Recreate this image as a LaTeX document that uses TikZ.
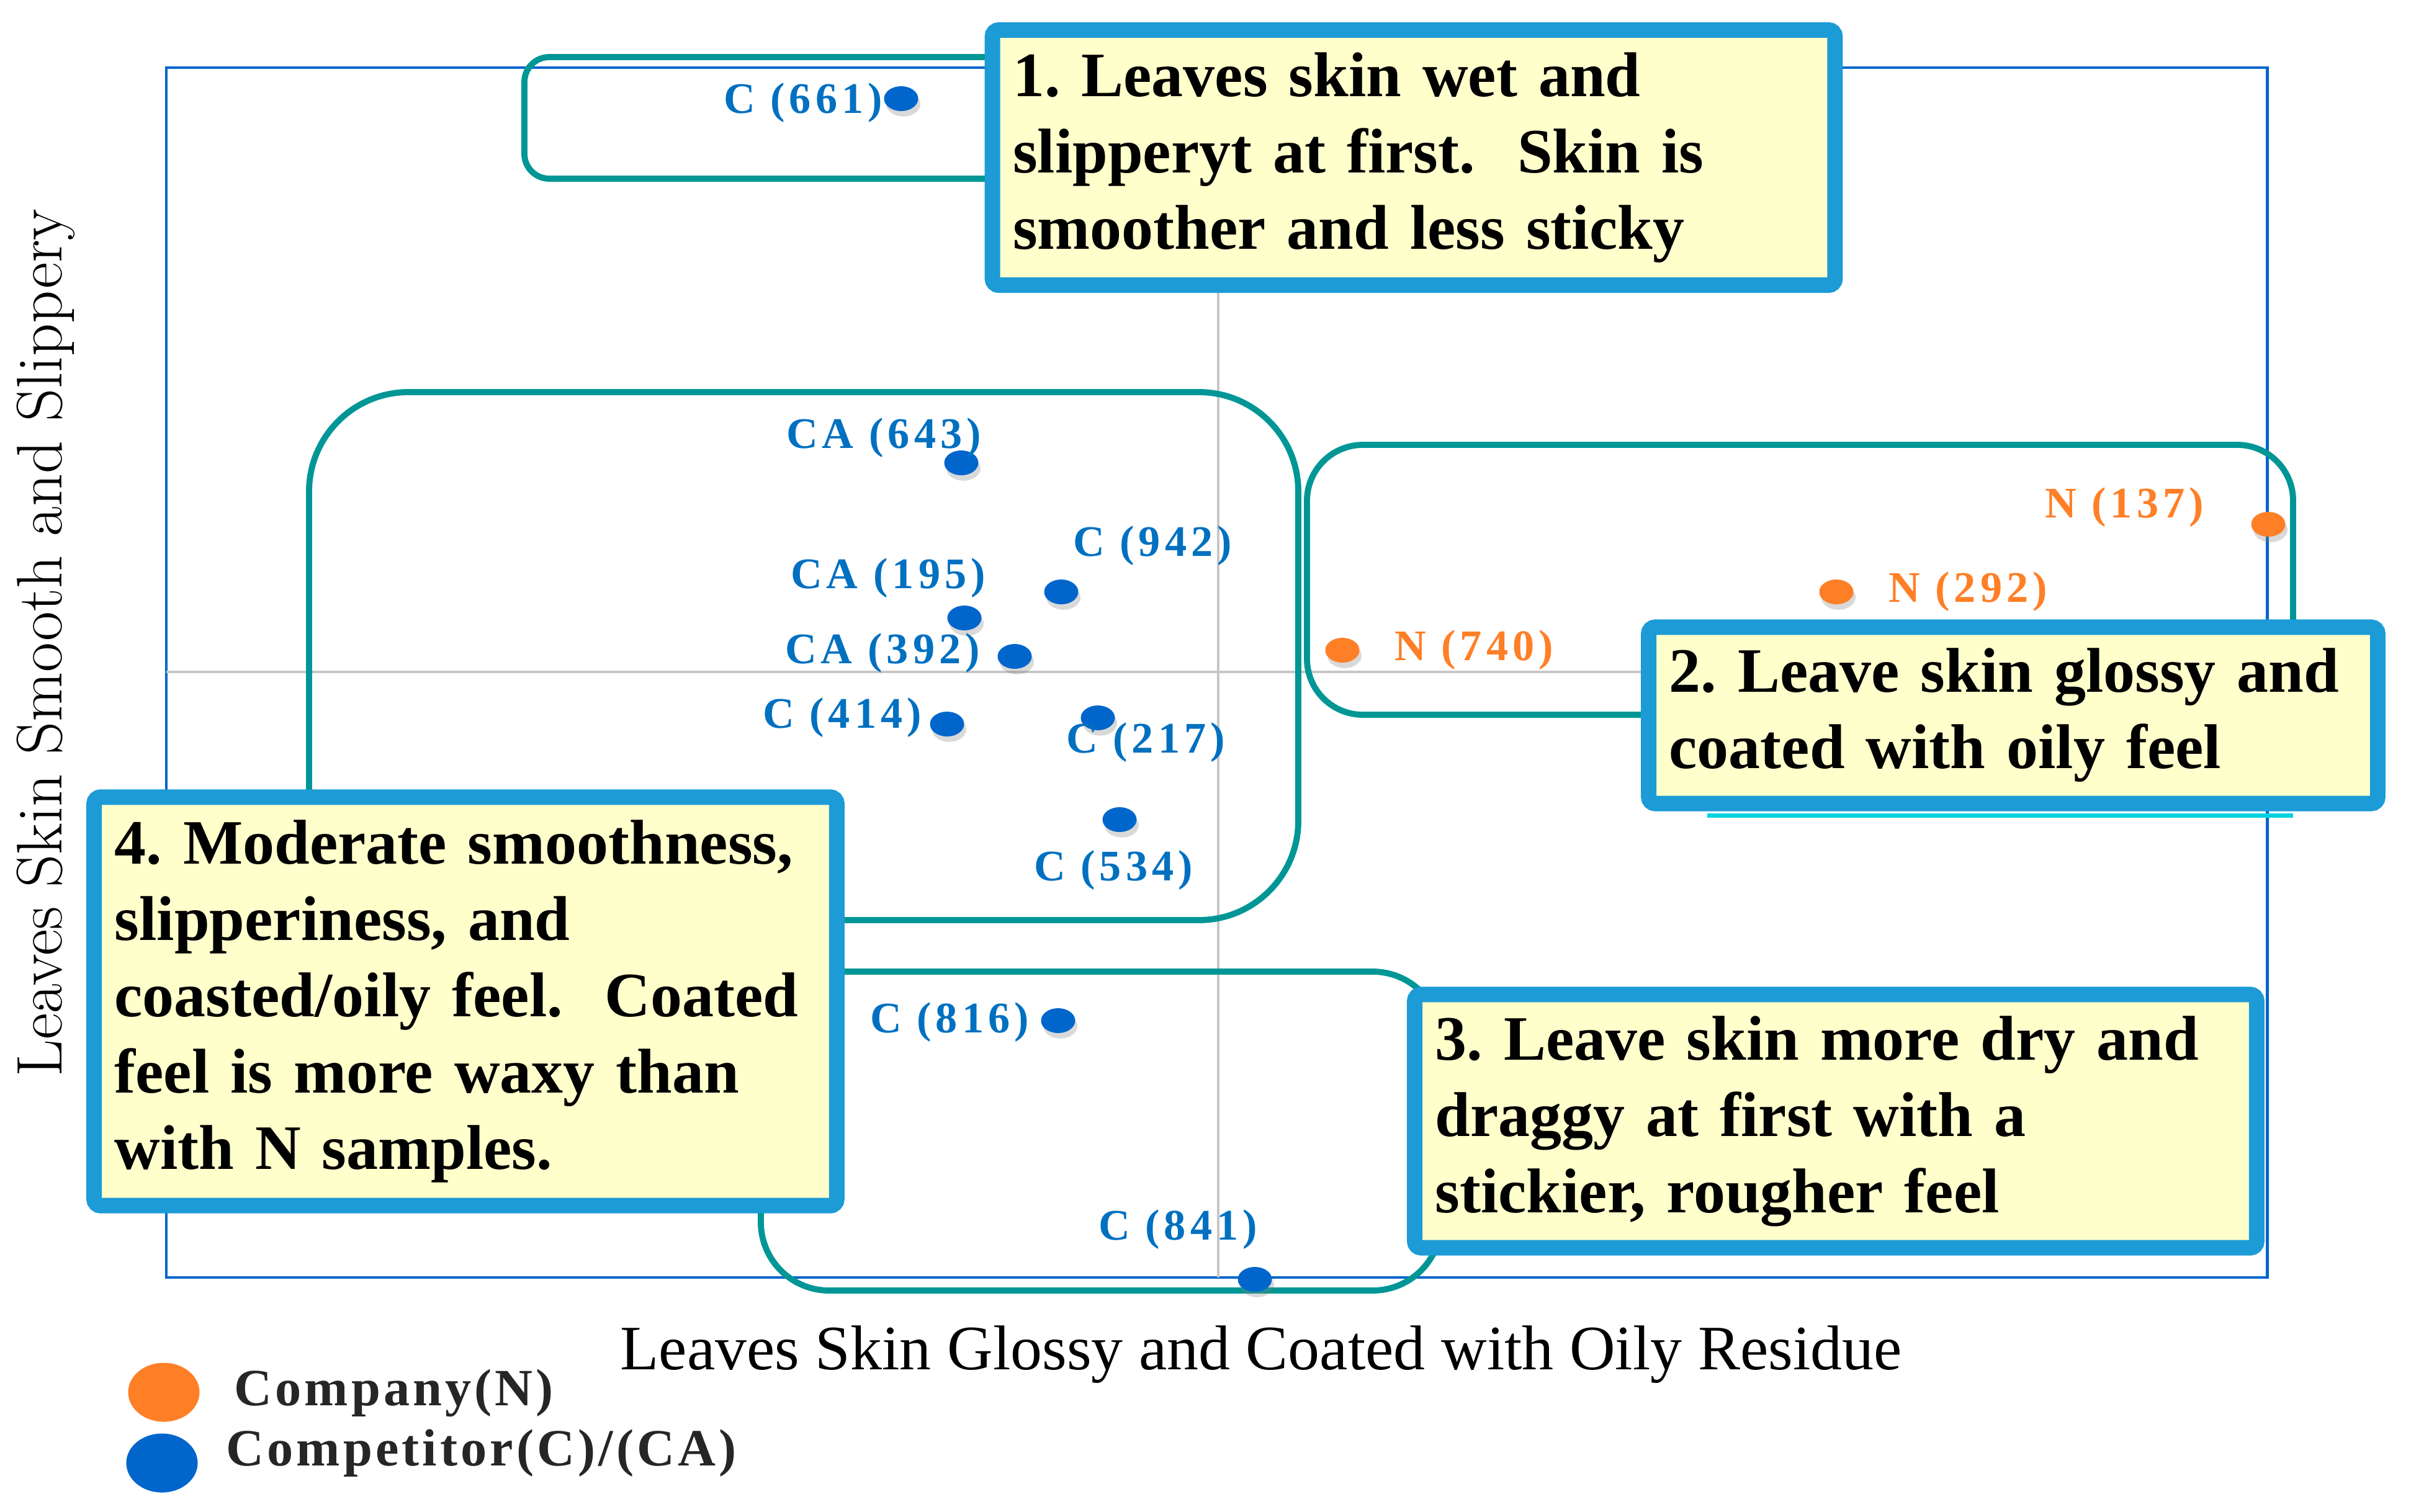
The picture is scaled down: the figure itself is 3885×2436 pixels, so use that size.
\documentclass[tikz,border=0pt]{standalone}
\usepackage{fontspec}
\usepackage{tikz}
\usetikzlibrary{shapes.geometric, shadows}
\newfontfamily\timesfont{Liberation Serif}
\newfontfamily\ptfont[LetterSpace=10]{Liberation Serif}
\newfontfamily\legfont[LetterSpace=6]{Liberation Serif}
\frenchspacing

\definecolor{groupteal}{RGB}{0,150,150}
\definecolor{noteblue}{RGB}{28,155,214}
\definecolor{noteyellow}{RGB}{255,255,204}
\definecolor{frameblue}{RGB}{0,102,204}
\definecolor{dotblue}{RGB}{0,102,204}
\definecolor{labblue}{RGB}{0,112,192}
\definecolor{dotorange}{RGB}{255,127,39}
\definecolor{barcyan}{RGB}{0,210,225}

\begin{document}
\begin{tikzpicture}[x=0.01cm, y=-0.01cm,
  grp/.style={draw=groupteal, line width=2.8pt},
  note/.style={draw=noteblue, fill=noteyellow, line width=7.1pt, rounded corners=3pt,
    inner xsep=0.33cm, inner ysep=0pt, align=left,
    font=\timesfont\bfseries\fontsize{29}{35}\selectfont},
  bdot/.style={ellipse, fill=dotblue, minimum width=0.55cm, minimum height=0.4cm, inner sep=0pt,
    drop shadow={shadow xshift=1pt, shadow yshift=-2.5pt, opacity=0.3}},
  ndot/.style={bdot, fill=dotorange},
  blab/.style={text=labblue, inner sep=0pt, font=\ptfont\bfseries\fontsize{20}{22}\selectfont},
  nlab/.style={blab, text=dotorange},
  legdot/.style={ellipse, minimum width=1.15cm, minimum height=0.95cm, inner sep=0pt},
  legtext/.style={anchor=west, inner sep=0pt, text=black!85, font=\legfont\bfseries\fontsize{24}{26}\selectfont}]
  \useasboundingbox (0,0) rectangle (3885,2436);

  % plot frame and cross hairs
  \coordinate (NW) at (268,109);
  \coordinate (SE) at (3653,2059);
  \coordinate (O) at (1963,1083);
  \draw[frameblue, line width=1.4pt] (NW) rectangle (SE);
  \draw[gray!45, line width=0.9pt] (O |- NW) -- (O |- SE);
  \draw[gray!45, line width=0.9pt] (O -| NW) -- (O -| SE);

  % groups
  \draw[grp, rounded corners=0.4cm] (845,92) rectangle (1700,288);
  \draw[grp, rounded corners=1.6cm] (498,632) rectangle (2092,1483);
  \draw[grp, rounded corners=0.9cm] (2106,717) rectangle (3695,1152);
  \draw[grp, rounded corners=1.1cm] (1226,1566) rectangle (2322,2080);
  \draw[barcyan, line width=2pt] (2751,1314) -- (3695,1314);

  % competitor samples
  \node[bdot] (c661) at (1452,159) {};
  \node[bdot] (ca643) at (1549,746) {};
  \node[bdot] (c942) at (1710,954) {};
  \node[bdot] (ca195) at (1554,996) {};
  \node[bdot] (ca392) at (1635,1058) {};
  \node[bdot] (c414) at (1526,1167) {};
  \node[bdot] (c217) at (1769,1157) {};
  \node[bdot] (c534) at (1804,1321) {};
  \node[bdot] (c816) at (1705,1645) {};
  \node[bdot] (c841) at (2022,2062) {};

  \node[blab] at (1294,166) {C (661)};
  \node[blab] at (1424,706) {CA (643)};
  \node[blab] at (1857,880) {C (942)};
  \node[blab] at (1431,932) {CA (195)};
  \node[blab] at (1422,1053) {CA (392)};
  \node[blab] at (1357,1157) {C (414)};
  \node[blab] at (1846,1197) {C (217)};
  \node[blab] at (1794,1403) {C (534)};
  \node[blab] at (1530,1648) {C (816)};
  \node[blab] at (1898,1982) {C (841)};

  % company samples
  \node[ndot] (n740) at (2163,1048) {};
  \node[ndot] (n292) at (2959,954) {};
  \node[ndot] (n137) at (3655,845) {};
  \node[nlab] at (2375,1048) {N (740)};
  \node[nlab] at (3171,954) {N (292)};
  \node[nlab] at (3423,818) {N (137)};

  % notes
  \node[note, text width=12.91cm, minimum height=4.11cm] (note1) at (2278,254)
    {1. Leaves skin wet and\\ slipperyt at first.~ Skin is\\ smoother and less sticky};
  \node[note, text width=11.08cm, minimum height=2.84cm] (note2) at (3244,1153)
    {2. Leave skin glossy and\\ coated with oily feel};
  \node[note, text width=12.90cm, minimum height=4.08cm] (note3) at (2958,1807)
    {3. Leave skin more dry and\\ draggy at first with a\\ stickier, rougher feel};
  \node[note, text width=11.30cm, minimum height=6.58cm] (note4) at (750,1614)
    {4. Moderate smoothness,\\ slipperiness, and\\ coasted/oily feel.~ Coated\\ feel is more waxy than\\ with N samples.};

  % axes
  \node[font=\timesfont\fontsize{29}{33}\selectfont] (xlab) at (2032,2183)
    {Leaves Skin Glossy and Coated with Oily Residue};
  \node[rotate=90, font=\fontsize{29.5}{32}\selectfont] (ylab) at (74,1036)
    {Leaves Skin Smooth and Slippery};

  % legend
  \node[legdot, fill=dotorange] (legN) at (264,2244) {};
  \node[legdot, fill=dotblue] (legC) at (261,2358) {};
  \node[legtext] at (377,2245) {Company(N)};
  \node[legtext] at (364,2342) {Competitor(C)/(CA)};
\end{tikzpicture}
\end{document}
